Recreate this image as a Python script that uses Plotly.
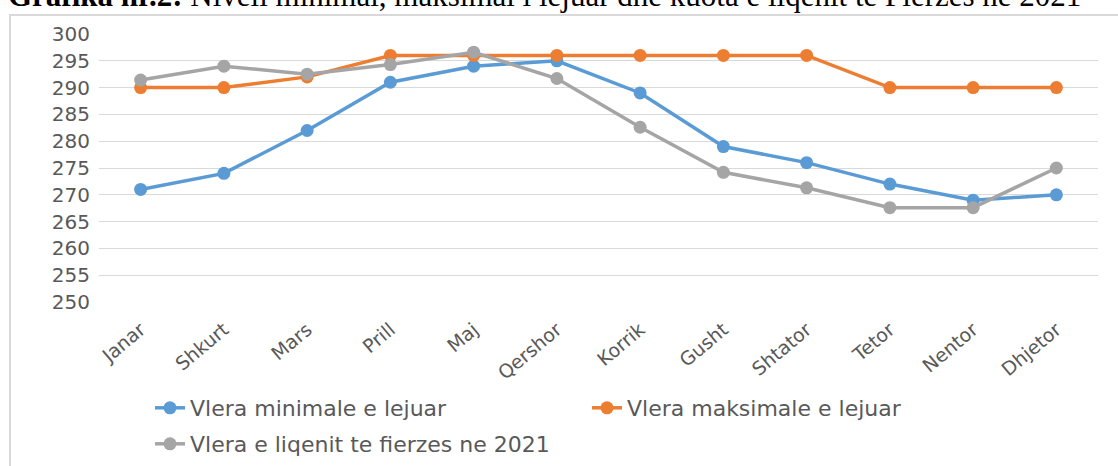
import plotly.graph_objects as go

months = ["Janar", "Shkurt", "Mars", "Prill", "Maj", "Qershor", "Korrik",
          "Gusht", "Shtator", "Tetor", "Nentor", "Dhjetor"]
vlera_min = [271, 274, 282, 291, 294, 295, 289, 279, 276, 272, 269, 270]
vlera_max = [290, 290, 292, 296, 296, 296, 296, 296, 296, 290, 290, 290]
vlera_liqeni = [291.4, 294.0, 292.5, 294.3, 296.6, 291.7, 282.6, 274.2, 271.3, 267.6, 267.6, 275.0]
y_ticks = [250, 255, 260, 265, 270, 275, 280, 285, 290, 295, 300]

W, H = 1118, 466
ML, MR, MT, MB = 99, 20, 34, 164
PW, PH = W - ML - MR, H - MT - MB

def px_x(p):
    return (p - ML) / PW

def px_y(p):
    return 1 - (p - MT) / PH

def cx(p):
    return p / W

def cy(p):
    return 1 - p / H

fig = go.Figure()
series = [
    ("Vlera minimale e lejuar", vlera_min, "#5b9bd5", "legend"),
    ("Vlera maksimale e lejuar", vlera_max, "#ed7d31", "legend"),
    ("Vlera e liqenit te fierzes ne 2021", vlera_liqeni, "#a5a5a5", "legend2"),
]
for name, vals, col, leg in series:
    fig.add_trace(go.Scatter(
        x=months, y=vals, name=name, mode="lines+markers",
        line=dict(color=col, width=3.5),
        marker=dict(color=col, size=13),
        legend=leg,
    ))

font_fam = "DejaVu Sans"
tick_col = "#595959"

fig.update_layout(
    width=W, height=H,
    margin=dict(l=ML, r=MR, t=MT, b=MB),
    paper_bgcolor="white", plot_bgcolor="white",
    font=dict(family=font_fam, color=tick_col, size=18),
    xaxis=dict(
        type="category", showgrid=False, zeroline=False, showline=False,
        tickangle=-40, tickfont=dict(size=19, color=tick_col),
        ticks="", range=[-0.5, 11.5], ticklabelstandoff=12, automargin=False,
    ),
    yaxis=dict(
        range=[250, 300], tickvals=y_ticks, showgrid=True, gridcolor="#d9d9d9",
        gridwidth=1, zeroline=False, showline=False, ticks="",
        tickfont=dict(size=20, color=tick_col), ticklabelstandoff=8, automargin=False,
    ),
    legend=dict(
        orientation="h", xref="container", yref="container",
        x=cx(150), y=cy(408), xanchor="left", yanchor="middle",
        entrywidth=392, entrywidthmode="pixels",
        font=dict(size=22, color=tick_col, family=font_fam), bgcolor="rgba(0,0,0,0)",
    ),
    legend2=dict(
        orientation="h", xref="container", yref="container",
        x=cx(150), y=cy(444), xanchor="left", yanchor="middle",
        font=dict(size=22, color=tick_col, family=font_fam), bgcolor="rgba(0,0,0,0)",
    ),
    showlegend=True,
)

# chart border
fig.add_shape(type="rect", xref="paper", yref="paper",
              x0=px_x(10), x1=px_x(1130), y0=px_y(480), y1=px_y(15),
              line=dict(color="#d9d9d9", width=2), fillcolor="rgba(0,0,0,0)", layer="below")

# cut-off caption above the chart
fig.add_annotation(
    xref="paper", yref="paper", x=px_x(6), y=px_y(15), xanchor="left", yanchor="bottom",
    showarrow=False,
    text="<b>Grafika nr.2:</b> Niveli minimal, maksimal i lejuar dhe kuota e liqenit te Fierzes ne 2021",
    font=dict(family="Liberation Serif", size=31, color="black"),
)

fig.write_html("out.html", config={"displayModeBar": False},
               post_script="document.body.style.margin='0';")
